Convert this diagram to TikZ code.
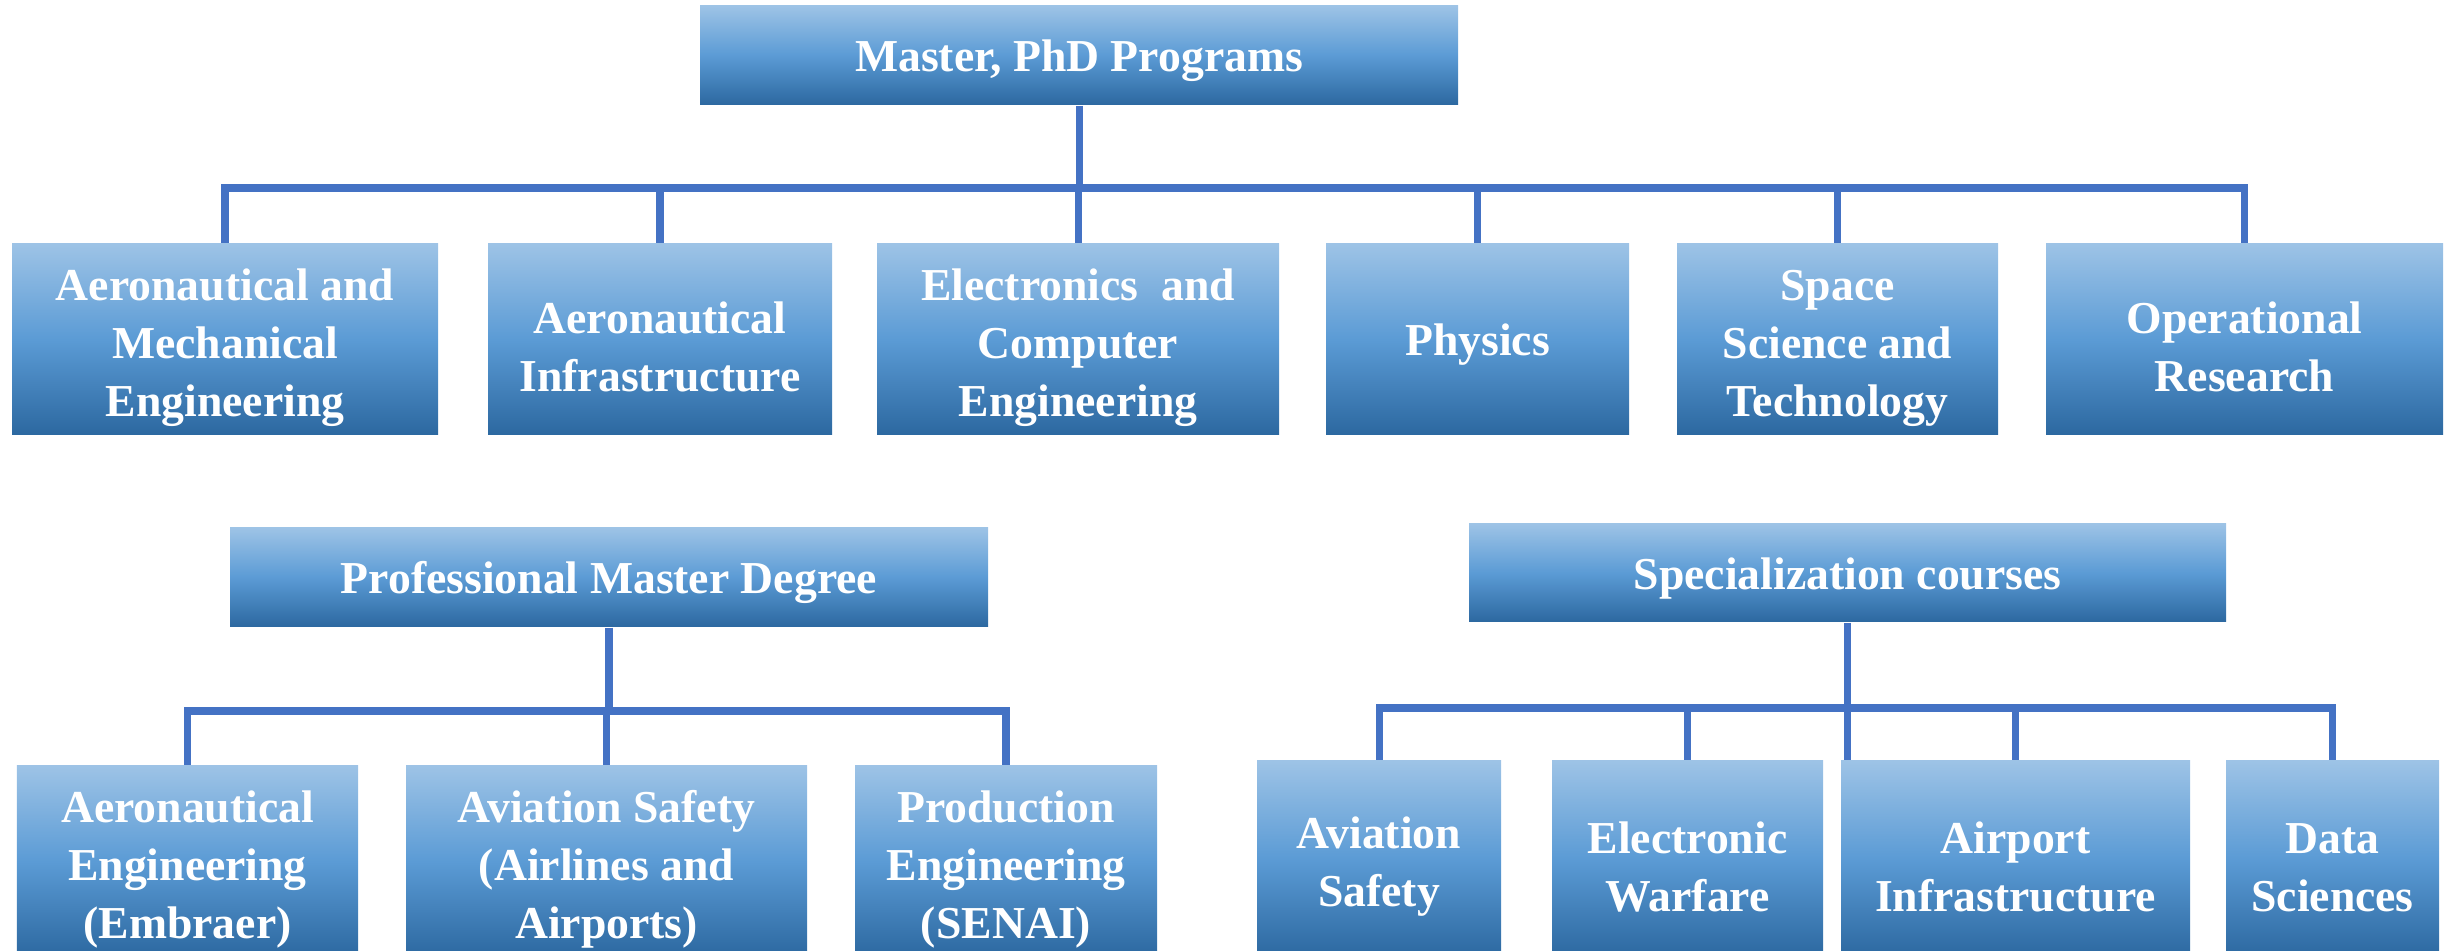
\documentclass[tikz,border=0pt]{standalone}
\usepackage{fontspec}
\setmainfont{Liberation Serif}
\usepackage{tikz}

\definecolor{linkblue}{RGB}{68,114,196}
\definecolor{boxtop}{RGB}{157,195,230}
\definecolor{boxmid}{RGB}{91,155,213}
\definecolor{boxbot}{RGB}{44,104,160}
\newcommand{\lift}{\rule{0pt}{13.5pt}}

\begin{document}
\begin{tikzpicture}[
  unit/.style={top color=boxtop,bottom color=boxbot,middle color=boxmid,
    text=white,align=center,inner sep=0pt,
    execute at begin node={\rule{0pt}{12pt}},
    font=\bfseries\fontsize{13}{16.5}\selectfont},
  link/.style={draw=linkblue,line width=2pt}]
  \useasboundingbox (0,0) rectangle (24.51,-9.51);
  % master and phd
  \node[unit,minimum width=7.58cm,minimum height=0.99cm] (phd) at (10.79,-0.555){Master, PhD Programs};
  \node[unit,minimum width=4.26cm,minimum height=1.91cm] (amec) at (2.25,-3.395){\lift Aeronautical and\\Mechanical\\Engineering};
  \node[unit,minimum width=3.44cm,minimum height=1.91cm] (ainf) at (6.60,-3.395){\lift Aeronautical\\Infrastructure};
  \node[unit,minimum width=4.02cm,minimum height=1.91cm] (ece) at (10.78,-3.395){\lift Electronics\ \ and\\Computer\\Engineering};
  \node[unit,minimum width=3.03cm,minimum height=1.91cm] (phys) at (14.775,-3.395){Physics};
  \node[unit,minimum width=3.21cm,minimum height=1.91cm] (space) at (18.375,-3.395){\lift Space\\Science and\\Technology};
  \node[unit,minimum width=3.97cm,minimum height=1.91cm] (opres) at (22.445,-3.395){\lift Operational\\Research};
  \coordinate (bus1) at (0,-1.88);
  \draw[link] (phd.south) -- (phd.south |- bus1);
  \foreach \n in {amec,ainf,ece,phys,space,opres}
    \draw[link] (phd.south |- bus1) -| (\n.north);
  % professional master
  \node[unit,minimum width=7.58cm,minimum height=0.99cm] (pmd) at (6.09,-5.775){Professional Master Degree};
  \node[unit,minimum width=3.41cm,minimum height=1.91cm] (aeemb) at (1.875,-8.615){\lift Aeronautical\\Engineering\\(Embraer)};
  \node[unit,minimum width=4.01cm,minimum height=1.91cm] (avsaf) at (6.065,-8.615){\lift Aviation Safety\\(Airlines and\\Airports)};
  \node[unit,minimum width=3.02cm,minimum height=1.91cm] (prodeng) at (10.06,-8.615){\lift Production\\Engineering\\(SENAI)};
  \coordinate (bus2) at (0,-7.11);
  \draw[link] (pmd.south) -- (pmd.south |- bus2);
  \foreach \n in {aeemb,avsaf,prodeng}
    \draw[link] (pmd.south |- bus2) -| (\n.north);
  % specialization
  \node[unit,minimum width=7.57cm,minimum height=0.98cm] (spec) at (18.475,-5.73){Specialization courses};
  \node[unit,minimum width=2.44cm,minimum height=1.96cm] (avsafe) at (13.79,-8.59){\lift Aviation\\Safety};
  \node[unit,minimum width=2.71cm,minimum height=1.96cm] (ewar) at (16.875,-8.59){\lift Electronic\\Warfare};
  \node[unit,minimum width=3.49cm,minimum height=1.96cm] (airinf) at (20.155,-8.59){\lift Airport\\Infrastructure};
  \node[unit,minimum width=2.13cm,minimum height=1.96cm] (datasc) at (23.325,-8.59){\lift Data\\Sciences};
  \coordinate (bus3) at (0,-7.08);
  \draw[link] (spec.south) -- (spec.south |- airinf.north);
  \foreach \n in {avsafe,ewar,airinf,datasc}
    \draw[link] (spec.south |- bus3) -| (\n.north);
\end{tikzpicture}
\end{document}
